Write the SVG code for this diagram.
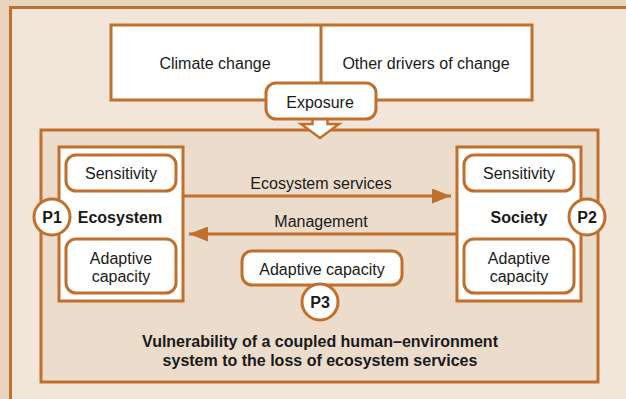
<svg xmlns="http://www.w3.org/2000/svg" width="626" height="399" viewBox="0 0 626 399">
<defs>
<style>
.st{stroke:#c0702c;stroke-width:3}
.box{fill:#fff;stroke:#c0702c;stroke-width:3}
.t{font-family:"Liberation Sans",Arial,sans-serif;font-size:16px;fill:#1a1a1a;text-anchor:middle}
.b{font-weight:bold}
.ln{stroke:#c0702c;stroke-width:3;fill:none}
</style>
<marker id="ah" markerWidth="19" markerHeight="15" refX="19" refY="7.5" orient="auto" markerUnits="userSpaceOnUse">
<path d="M0,0 L19,7.5 L0,15 Z" fill="#c0702c"/>
</marker>
</defs>
<rect x="0" y="0" width="626" height="399" fill="#e8d4bf"/>
<rect x="10.5" y="7.5" width="640" height="420" fill="#f2e6da" class="st"/>
<rect id="system" x="41" y="130" width="557" height="252" fill="#ecdccb" class="st"/>

<g id="drivers">
<rect x="111" y="25" width="421" height="75" class="box"/>
<line x1="321" y1="25" x2="321" y2="100" class="st"/>
<text x="215" y="69" class="t">Climate change</text>
<text x="426" y="69" class="t">Other drivers of change</text>
</g>

<g id="exposure-arrow">
<path d="M312.5,110 L327.5,110 L327.5,124 L339,124 L320,138 L301,124 L312.5,124 Z" fill="#fff" stroke="#c0702c" stroke-width="2.5" stroke-linejoin="miter"/>
</g>
<g id="exposure">
<rect x="266" y="83" width="110" height="36" rx="10" class="box"/>
<text x="320" y="108" class="t">Exposure</text>
</g>

<g id="connectors">
<line x1="183" y1="196" x2="451" y2="196" class="ln" marker-end="url(#ah)"/>
<line x1="457" y1="234" x2="189" y2="234" class="ln" marker-end="url(#ah)"/>
<text x="321" y="189" class="t">Ecosystem services</text>
<text x="321" y="227" class="t">Management</text>
</g>

<g id="ecosystem">
<rect x="59" y="147" width="124" height="154" class="box"/>
<rect x="66" y="155" width="110" height="36" rx="10" class="box"/>
<text x="121" y="179" class="t">Sensitivity</text>
<text x="120" y="223" class="t b">Ecosystem</text>
<rect x="66" y="239" width="110" height="54" rx="10" class="box"/>
<text x="121" y="264" class="t">Adaptive</text>
<text x="121" y="282" class="t">capacity</text>
</g>

<g id="p1">
<circle cx="52" cy="217" r="18" class="box"/>
<text x="52" y="223" class="t b">P1</text>
</g>

<g id="society">
<rect x="457" y="147" width="124" height="154" class="box"/>
<rect x="464" y="155" width="110" height="36" rx="10" class="box"/>
<text x="519" y="179" class="t">Sensitivity</text>
<text x="519" y="223" class="t b">Society</text>
<rect x="464" y="239" width="110" height="54" rx="10" class="box"/>
<text x="519" y="264" class="t">Adaptive</text>
<text x="519" y="282" class="t">capacity</text>
</g>

<g id="p2">
<circle cx="587" cy="217" r="18" class="box"/>
<text x="587" y="223" class="t b">P2</text>
</g>

<g id="adaptive-capacity">
<rect x="242" y="251" width="160" height="34" rx="10" class="box"/>
<text x="322" y="275" class="t">Adaptive capacity</text>
</g>

<g id="p3">
<circle cx="320" cy="302" r="18" class="box"/>
<text x="320" y="308" class="t b">P3</text>
</g>

<g id="caption">
<text x="320" y="347" class="t b">Vulnerability of a coupled human–environment</text>
<text x="320" y="366" class="t b">system to the loss of ecosystem services</text>
</g>
</svg>
